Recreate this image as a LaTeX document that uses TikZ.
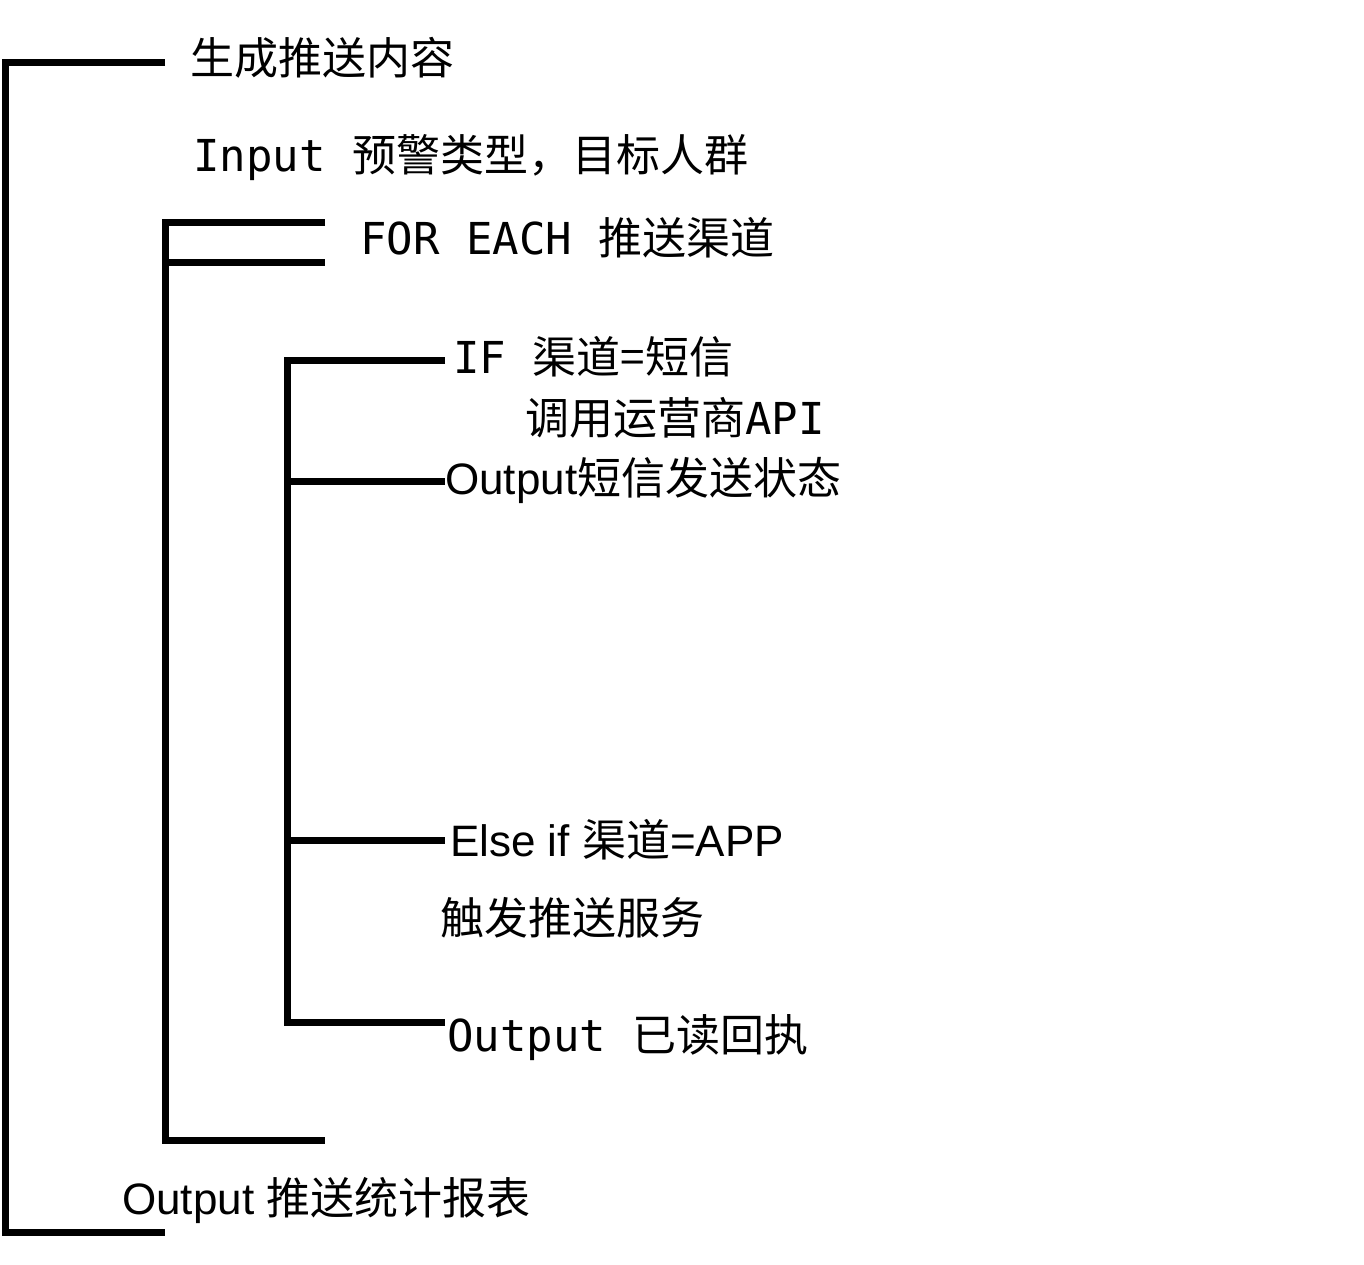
\documentclass[tikz,border=0pt]{standalone}
\usepackage{fontspec}
\setmainfont{Liberation Sans}
\newfontfamily\cjk{Noto Sans CJK SC}
\newfontfamily\mono{DejaVu Sans Mono}
\begin{document}
\begin{tikzpicture}[x=1pt,y=-1pt,
  br/.style={line width=7pt,line cap=butt,line join=miter},
  lbl/.style={anchor=west,inner sep=0pt,font=\fontsize{44}{50}\selectfont}]
\useasboundingbox[fill=white] (0,0) rectangle (1364,1264);
% outer bracket
\draw[br] (165,62) -- (5,62) -- (5,1232) -- (165,1232);
% loop bracket
\draw[br] (325,222) -- (165,222) -- (165,1140) -- (325,1140);
\draw[br] (165,262) -- (325,262);
% if bracket
\draw[br] (445,360) -- (287,360) -- (287,1022) -- (445,1022);
\draw[br] (287,481) -- (445,481);
\draw[br] (287,840) -- (445,840);
% texts
\node[lbl] (t1) at (190,58) {\cjk 生成推送内容};
\node[lbl] (t2) at (193,158) {\mono Input \cjk 预警类型，目标人群};
\node[lbl] (t3) at (360,238) {\mono FOR EACH \cjk 推送渠道};
\node[lbl] (t4) at (453,357) {\mono IF \cjk 渠道=短信};
\node[lbl] (t5) at (525,418) {\cjk 调用运营商\mono API};
\node[lbl] (t6) at (445,480) {Output\cjk 短信发送状态};
\node[lbl] (t7) at (450,840) {Else if \cjk 渠道\rmfamily=APP};
\node[lbl] (t8) at (440,918) {\cjk 触发推送服务};
\node[lbl] (t9) at (447,1038) {\mono Output \cjk 已读回执};
\node[lbl] (t10) at (122,1200) {Output \cjk 推送统计报表};
\end{tikzpicture}
\end{document}
